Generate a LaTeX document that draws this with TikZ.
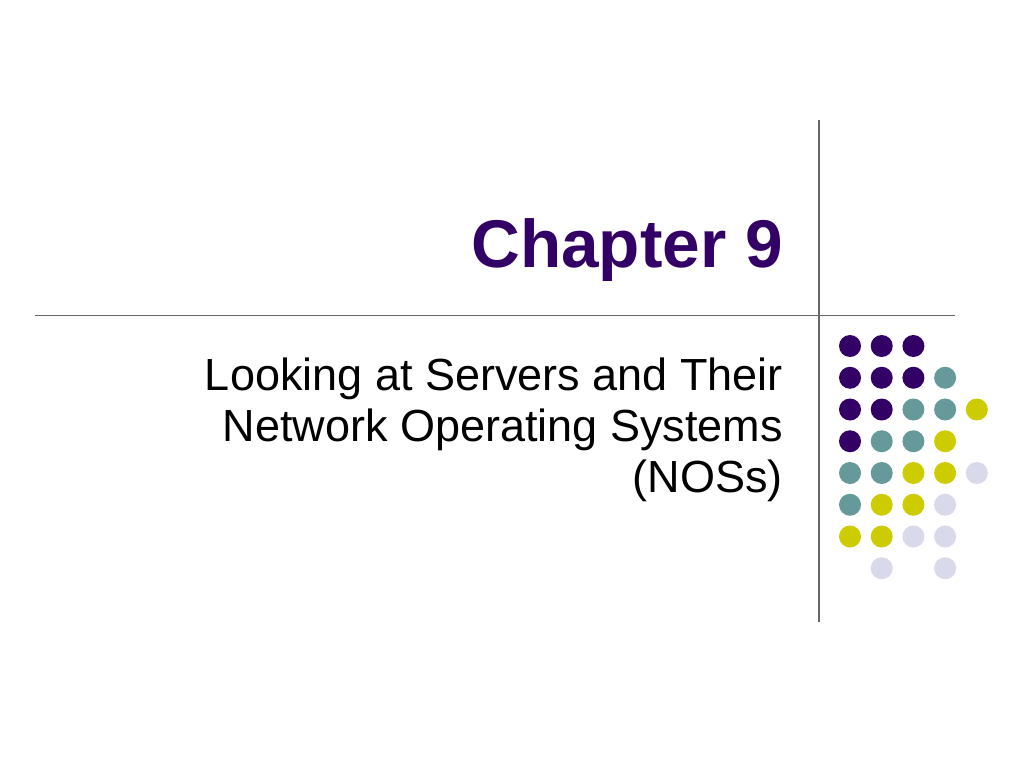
\documentclass[tikz,border=0pt]{standalone}
\usepackage{fontspec}
\setmainfont{Liberation Sans}
\definecolor{dpurple}{HTML}{330066}
\definecolor{dteal}{HTML}{669999}
\definecolor{dyellow}{HTML}{CCCC00}
\definecolor{dlav}{HTML}{D9D9EC}
\definecolor{rule}{HTML}{666666}
\tikzset{
  dot/.style={circle, inner sep=0pt, minimum size=22pt, draw=none},
  ruleline/.style={draw=rule, line width=1.2pt},
}
\begin{document}
\begin{tikzpicture}[x=1pt,y=-1pt]
\useasboundingbox (0,0) rectangle (1024,768);
\fill[white] (0,0) rectangle (1024,768);
% rules
\coordinate (vt) at (819,120);
\coordinate (vb) at (819,622);
\coordinate (hl) at (35,315.5);
\coordinate (hr) at (955,315.5);
\draw[ruleline] (vt) -- (vb);
\draw[ruleline] (hl) -- (hr);
% title
\node[anchor=base east, inner sep=0pt, text=dpurple, font=\fontsize{67.5}{80}\selectfont\bfseries] (title) at (783,267.5) {Chapter 9};
% subtitle
\node[anchor=base east, inner sep=0pt, align=right, font=\fontsize{45}{51}\selectfont] (sub) at (783,492) {Looking at Servers and Their\\Network Operating Systems\\(NOSs)};
% dots
\foreach \r/\cols in {1/{1/dpurple,2/dpurple,3/dpurple},
                      2/{1/dpurple,2/dpurple,3/dpurple,4/dteal},
                      3/{1/dpurple,2/dpurple,3/dteal,4/dteal,5/dyellow},
                      4/{1/dpurple,2/dteal,3/dteal,4/dyellow},
                      5/{1/dteal,2/dteal,3/dyellow,4/dyellow,5/dlav},
                      6/{1/dteal,2/dyellow,3/dyellow,4/dlav},
                      7/{1/dyellow,2/dyellow,3/dlav,4/dlav},
                      8/{2/dlav,4/dlav}}{
  \foreach \c/\col in \cols {
    \node[dot, fill=\col] (d\r\c) at ({850+(\c-1)*31.7},{346+(\r-1)*31.75}) {};
  }
}
\end{tikzpicture}
\end{document}
